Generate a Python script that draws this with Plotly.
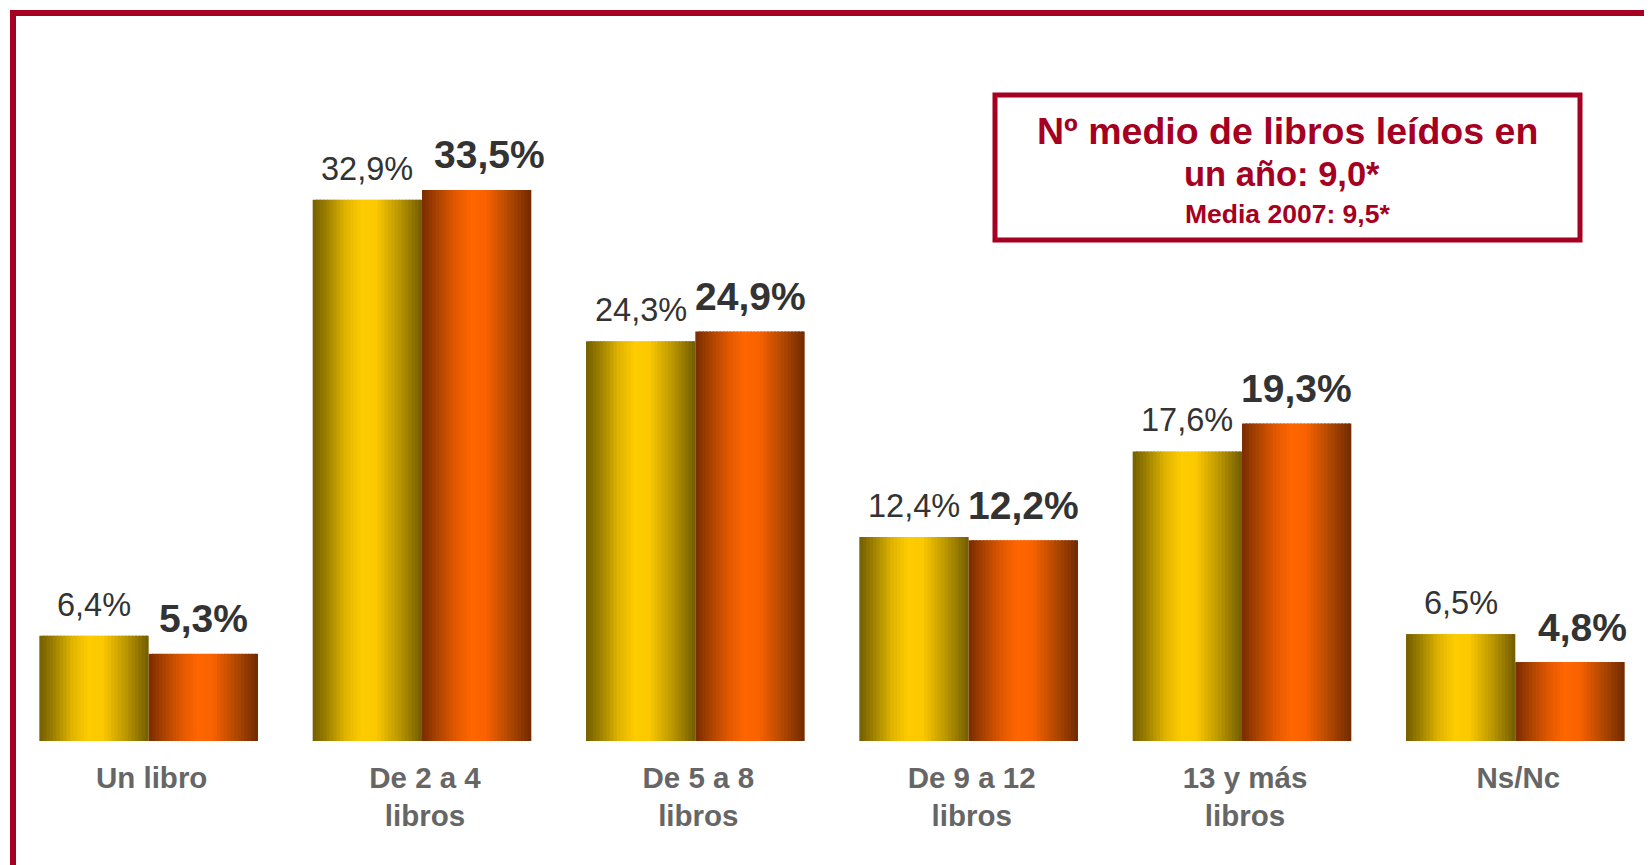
import plotly.graph_objects as go

# ---------------- data ----------------
categories = ["Un libro", "De 2 a 4<br>libros", "De 5 a 8<br>libros",
              "De 9 a 12<br>libros", "13 y más<br>libros", "Ns/Nc"]
values_2007 = [6.4, 32.9, 24.3, 12.4, 17.6, 6.5]
values_2008 = [5.3, 33.5, 24.9, 12.2, 19.3, 4.8]
labels_2007 = ["6,4%", "32,9%", "24,3%", "12,4%", "17,6%", "6,5%"]
labels_2008 = ["5,3%", "33,5%", "24,9%", "12,2%", "19,3%", "4,8%"]
box_line1 = "Nº medio de libros leídos en"
box_line2 = "un año: 9,0*"
box_line3 = "Media 2007: 9,5*"

# ---------------- layout constants ----------------
W, H = 1652, 865
OFF = 8  # page body margin
ML, MR, MT, MB = 12 - OFF, 8, 83 - OFF, H - (741 - OFF)
PW, PH = W - ML - MR, H - MT - MB
RED = "#A50021"
FONT = "Liberation Sans, Arial, sans-serif"


def px_x(px):
    # px given in page coordinates
    return (px - OFF - ML) / PW


def px_y(py):
    return (H - MB - (py - OFF)) / PH


def hex2rgb(h):
    h = h.lstrip("#")
    return tuple(int(h[i:i + 2], 16) for i in (0, 2, 4))


def grad(stops, t):
    for (t0, c0), (t1, c1) in zip(stops, stops[1:]):
        if t0 <= t <= t1:
            f = (t - t0) / (t1 - t0) if t1 > t0 else 0
            a, b = hex2rgb(c0), hex2rgb(c1)
            return "rgb(%d,%d,%d)" % tuple(round(a[i] + (b[i] - a[i]) * f) for i in range(3))
    return stops[-1][1]


yellow_stops = [(0.0, "#745e00"), (0.12, "#9a7e00"), (0.30, "#e0b400"), (0.45, "#ffcc00"),
                (0.58, "#fcc800"), (0.80, "#b89400"), (1.0, "#725c00")]
orange_stops = [(0.0, "#782b00"), (0.12, "#a44000"), (0.30, "#e05800"), (0.45, "#ff6600"),
                (0.58, "#fa6200"), (0.80, "#b04800"), (1.0, "#702a00")]

x = list(range(len(categories)))
BW = 0.4
N = 32
w = BW / N

fig = go.Figure()
for vals, stops, base in ((values_2007, yellow_stops, -BW), (values_2008, orange_stops, 0.0)):
    for k in range(N):
        t = (k + 0.5) / N
        fig.add_trace(go.Bar(
            x=x, y=vals, offset=base + k * w,
            width=w * 1.6 if k < N - 1 else w,
            marker=dict(color=grad(stops, t), line=dict(width=0)),
            showlegend=False, hoverinfo="skip"))

annotations = []
orange_nudge = {1: 13, 5: 12}
for i in x:
    annotations.append(dict(x=i - BW / 2, y=values_2007[i], text=labels_2007[i],
                            showarrow=False, yanchor="middle", yshift=31,
                            font=dict(family=FONT, size=32.5, color="#333333")))
    annotations.append(dict(x=i + BW / 2, y=values_2008[i], text=labels_2008[i],
                            showarrow=False, yanchor="middle", yshift=35,
                            xshift=orange_nudge.get(i, 0),
                            font=dict(family=FONT, size=39, color="#333333", weight="bold")))

cx = px_x(1287)
for txt, py, sz, dx in ((box_line1, 131, 37.5, 0), (box_line2, 174, 34.5, -5), (box_line3, 214, 26.5, 0)):
    annotations.append(dict(xref="paper", yref="paper", x=cx, y=px_y(py), text=txt,
                            showarrow=False, xanchor="center", yanchor="middle", xshift=dx,
                            font=dict(family=FONT, size=sz, color=RED, weight="bold")))

shapes = [
    dict(type="rect", xref="paper", yref="paper", x0=px_x(995), x1=px_x(1580),
         y0=px_y(240), y1=px_y(95), line=dict(color=RED, width=5), fillcolor="rgba(0,0,0,0)"),
    dict(type="rect", xref="paper", yref="paper", x0=px_x(13), x1=px_x(W + 60),
         y0=px_y(H + 60), y1=px_y(13), line=dict(color=RED, width=6), fillcolor="rgba(0,0,0,0)"),
]

fig.update_layout(
    width=W, height=H, barmode="overlay",
    margin=dict(l=ML, r=MR, t=MT, b=MB),
    paper_bgcolor="white", plot_bgcolor="white",
    annotations=annotations, shapes=shapes,
    xaxis=dict(range=[-0.5, 5.5], tickmode="array", tickvals=x, ticktext=categories,
               showgrid=False, zeroline=False, showline=False, ticks="",
               ticklabelstandoff=16, ticklabelshift=3,
               tickfont=dict(family=FONT, size=29.5, color="#666666", weight="bold")),
    yaxis=dict(range=[0, 40], visible=False, showgrid=False, zeroline=False),
)

fig.write_html("out.html")
